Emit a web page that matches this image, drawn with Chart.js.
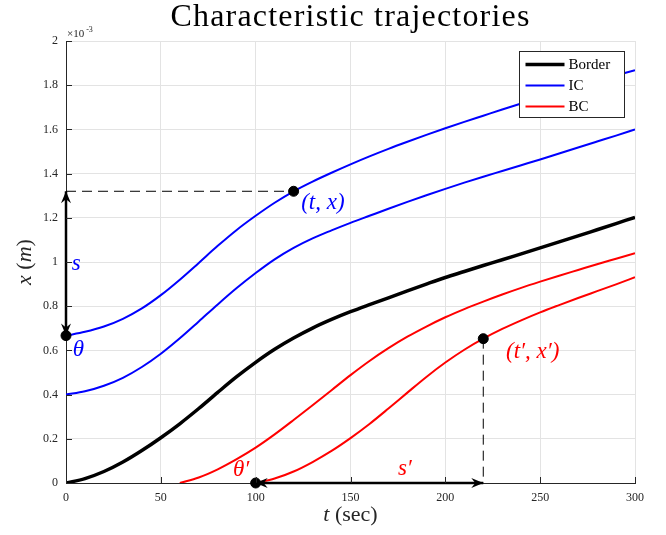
<!DOCTYPE html>
<html>
<head>
<meta charset="utf-8">
<script src="https://cdn.jsdelivr.net/npm/chart.js@4.4.1/dist/chart.umd.min.js"></script>
<style>
  html, body { margin: 0; padding: 0; background: #fff; }
</style>
</head>
<body>
<canvas id="myChart" width="666" height="535"></canvas>
<script>
// time axis (sec) and trajectories, x in units of 1e-3 m
const tSec = [0,10,20,30,40,50,60,70,80,90,100,110,120,130,140,150,160,170,180,190,200,210,220,230,240,250,260,270,280,290,300];
const borderX = [0,0.02,0.052,0.095,0.147,0.205,0.268,0.337,0.41,0.481,0.546,0.605,0.656,0.701,0.74,0.775,0.807,0.838,0.869,0.9,0.93,0.957,0.984,1.01,1.037,1.064,1.091,1.118,1.146,1.174,1.202];
const ic1X = [0.4,0.415,0.44,0.476,0.525,0.585,0.655,0.731,0.808,0.882,0.95,1.012,1.064,1.107,1.143,1.177,1.209,1.241,1.272,1.302,1.331,1.359,1.386,1.412,1.438,1.464,1.491,1.518,1.545,1.572,1.6];
const ic2X = [0.667,0.684,0.708,0.743,0.79,0.85,0.92,0.996,1.073,1.145,1.209,1.268,1.32,1.364,1.404,1.442,1.478,1.512,1.544,1.575,1.605,1.634,1.662,1.69,1.717,1.744,1.77,1.795,1.82,1.844,1.868];
const bc1T = [60,70,80,90,100,110,120,130,140,150,160,170,180,190,200,210,220,230,240,250,260,270,280,290,300];
const bc1X = [0,0.025,0.062,0.108,0.16,0.22,0.285,0.352,0.42,0.488,0.552,0.61,0.662,0.708,0.75,0.787,0.821,0.853,0.883,0.911,0.938,0.964,0.99,1.015,1.04];
const bc2T = [100,110,120,130,140,150,160,170,180,190,200,210,220,230,240,250,260,270,280,290,300];
const bc2X = [0,0.02,0.052,0.095,0.145,0.203,0.267,0.337,0.409,0.48,0.545,0.603,0.653,0.697,0.736,0.772,0.805,0.837,0.868,0.899,0.931];

// marked points and guides
const markT = [0,120,220,100];
const markX = [0.667,1.32,0.653,0];
const dashH = [[0,1.32],[120,1.32]];
const dashV = [[220,0.653],[220,0]];
const arrowS = [[0,0.667],[0,1.32]];
const arrowS2 = [[100,0],[220,0]];
const notes = [
  {text: '(t, x)', t: 124, x: 1.268, color: '#0000ff'},
  {text: '(t\u2032, x\u2032)', t: 232, x: 0.593, color: '#ff0000'},
  {text: 's', t: 3, x: 0.99, color: '#0000ff'},
  {text: '\u03b8', t: 3.5, x: 0.6, color: '#0000ff'},
  {text: '\u03b8\u2032', t: 88, x: 0.06, color: '#ff0000'},
  {text: 's\u2032', t: 175, x: 0.065, color: '#ff0000'}
];

const tTicks = {min: 0, max: 300, step: 50};
const xTicks = {min: 0, max: 2, step: 0.2};

const BLUE = '#0000ff', RED = '#ff0000', AX = '#262626';
const pts = (ts, xs) => ts.map((t, i) => ({x: t, y: xs[i]}));
const seg = (p) => p.map(q => ({x: q[0], y: q[1]}));

function curve(label, data, color, width) {
  return {type: 'line', label, data, borderColor: color, borderWidth: width,
    pointRadius: 0, fill: false, cubicInterpolationMode: 'monotone'};
}
function guide(data, dash, width) {
  return {type: 'line', label: '', data, borderColor: '#000', borderWidth: width,
    borderDash: dash, pointRadius: 0, fill: false, clip: false};
}

const datasets = [
  {type: 'scatter', label: '', data: pts(markT, markX), pointRadius: 5,
    pointBackgroundColor: '#000', pointBorderColor: '#000', clip: false},
  guide(seg(arrowS), [], 2.5),
  guide(seg(arrowS2), [], 2.5),
  guide(seg(dashH), [10, 6], 1),
  guide(seg(dashV), [10, 6], 1),
  curve('BC', pts(bc2T, bc2X), RED, 2),
  curve('BC', pts(bc1T, bc1X), RED, 2),
  curve('IC', pts(tSec, ic1X), BLUE, 2),
  curve('IC', pts(tSec, ic2X), BLUE, 2),
  curve('Border', pts(tSec, borderX), '#000', 3.5)
];

function arrowHead(ctx, x0, y0, x1, y1) {
  const a = Math.atan2(y1 - y0, x1 - x0);
  ctx.save();
  ctx.translate(x1, y1);
  ctx.rotate(a);
  ctx.beginPath();
  ctx.moveTo(0, 0);
  ctx.lineTo(-12, -5);
  ctx.lineTo(-8, 0);
  ctx.lineTo(-12, 5);
  ctx.closePath();
  ctx.fillStyle = '#000';
  ctx.fill();
  ctx.restore();
}

const decor = {
  id: 'decor',
  beforeDraw(chart) {
    const ctx = chart.ctx;
    ctx.save();
    ctx.fillStyle = '#fff';
    ctx.fillRect(0, 0, chart.width, chart.height);
    ctx.restore();
  },
  afterDatasetsDraw(chart) {
    const {ctx, chartArea: a} = chart;
    const sx = chart.scales.x, sy = chart.scales.y;
    ctx.save();
    // inward tick marks
    ctx.strokeStyle = AX;
    ctx.lineWidth = 1;
    sx.ticks.forEach(tk => {
      const p = Math.round(sx.getPixelForValue(tk.value)) + 0.5;
      ctx.beginPath(); ctx.moveTo(p, a.bottom); ctx.lineTo(p, a.bottom - 6); ctx.stroke();
    });
    sy.ticks.forEach(tk => {
      const p = Math.round(sy.getPixelForValue(tk.value)) + 0.5;
      ctx.beginPath(); ctx.moveTo(a.left, p); ctx.lineTo(a.left + 6, p); ctx.stroke();
    });
    // arrow heads at both ends
    [arrowS, arrowS2].forEach(s => {
      const p0 = [sx.getPixelForValue(s[0][0]), sy.getPixelForValue(s[0][1])];
      const p1 = [sx.getPixelForValue(s[1][0]), sy.getPixelForValue(s[1][1])];
      arrowHead(ctx, p0[0], p0[1], p1[0], p1[1]);
      arrowHead(ctx, p1[0], p1[1], p0[0], p0[1]);
    });
    // annotations
    ctx.font = 'italic 23px "Liberation Serif"';
    ctx.textBaseline = 'middle';
    ctx.textAlign = 'left';
    notes.forEach(n => {
      ctx.fillStyle = n.color;
      ctx.fillText(n.text, sx.getPixelForValue(n.t), sy.getPixelForValue(n.x));
    });
    ctx.restore();
  },
  afterDraw(chart) {
    const {ctx, chartArea: a} = chart;
    ctx.save();
    // title
    ctx.fillStyle = '#000';
    ctx.font = '32px "Liberation Serif"';
    ctx.letterSpacing = '1.2px';
    ctx.textAlign = 'center';
    ctx.textBaseline = 'alphabetic';
    ctx.fillText('Characteristic trajectories', (a.left + a.right) / 2, 26);
    ctx.letterSpacing = '0px';

    // exponent
    ctx.fillStyle = AX;
    ctx.textAlign = 'left';
    ctx.font = '11px "Liberation Serif"';
    ctx.fillText('\u00d710', a.left + 1, 37);
    const w10 = ctx.measureText('\u00d710').width;
    ctx.font = '8px "Liberation Serif"';
    ctx.fillText('-3', a.left + 3 + w10, 32);

    // axis titles with mixed italic / upright parts
    const drawParts = (list, cx, by) => {
      let total = 0;
      list.forEach(p => { ctx.font = p[1]; total += ctx.measureText(p[0]).width; });
      let xx = cx - total / 2;
      list.forEach(p => { ctx.font = p[1]; ctx.fillText(p[0], xx, by); xx += ctx.measureText(p[0]).width; });
    };
    const IT = 'italic 22px "Liberation Serif"', RM = '22px "Liberation Serif"';
    ctx.fillStyle = AX;
    drawParts([['t', IT], [' (sec)', RM]], (a.left + a.right) / 2, 521);

    ctx.save();
    ctx.translate(31, 262);
    ctx.rotate(-Math.PI / 2);
    drawParts([['x', IT], [' (', RM], ['m', IT], [')', RM]], 0, 0);
    ctx.restore();

    // legend box
    const seen = [];
    chart.data.datasets.slice().reverse().forEach(ds => {
      if (ds.label && !seen.find(e => e.label === ds.label)) seen.push(ds);
    });
    const lx = a.right - 115.5, ly = 51.5, lw = 105, lh = 66;
    ctx.fillStyle = '#fff';
    ctx.fillRect(lx, ly, lw, lh);
    ctx.strokeStyle = AX;
    ctx.lineWidth = 1;
    ctx.strokeRect(lx, ly, lw, lh);
    ctx.font = '15px "Liberation Serif"';
    ctx.textBaseline = 'middle';
    seen.forEach((ds, i) => {
      const yy = ly + 13 + i * 21;
      ctx.strokeStyle = ds.borderColor;
      ctx.lineWidth = ds.borderWidth;
      ctx.beginPath(); ctx.moveTo(lx + 6, yy); ctx.lineTo(lx + 45, yy); ctx.stroke();
      ctx.fillStyle = '#000';
      ctx.fillText(ds.label, lx + 49, yy + 1);
    });
    ctx.restore();
  }
};

const tickFont = {family: '"Liberation Serif"', size: 12};

new Chart(document.getElementById('myChart').getContext('2d'), {
  data: {datasets},
  options: {
    responsive: false,
    animation: false,
    devicePixelRatio: 1,
    layout: {padding: {left: 0, right: 31, top: 41, bottom: 0}},
    plugins: {legend: {display: false}, tooltip: {enabled: false}, title: {display: false}},
    scales: {
      x: {
        type: 'linear', min: tTicks.min, max: tTicks.max,
        ticks: {stepSize: tTicks.step, color: AX, font: tickFont, padding: 8, maxRotation: 0},
        grid: {color: '#e3e3e3', drawTicks: false},
        border: {display: true, color: AX, width: 1},
        afterFit: s => { s.height = 52; }
      },
      y: {
        type: 'linear', min: xTicks.min, max: xTicks.max,
        ticks: {stepSize: xTicks.step, color: AX, font: tickFont, padding: 8,
          callback: v => String(+(+v).toFixed(1))},
        grid: {color: '#e3e3e3', drawTicks: false},
        border: {display: true, color: AX, width: 1},
        afterFit: s => { s.width = 66; }
      }
    }
  },
  plugins: [decor]
});
</script>
</body>
</html>
